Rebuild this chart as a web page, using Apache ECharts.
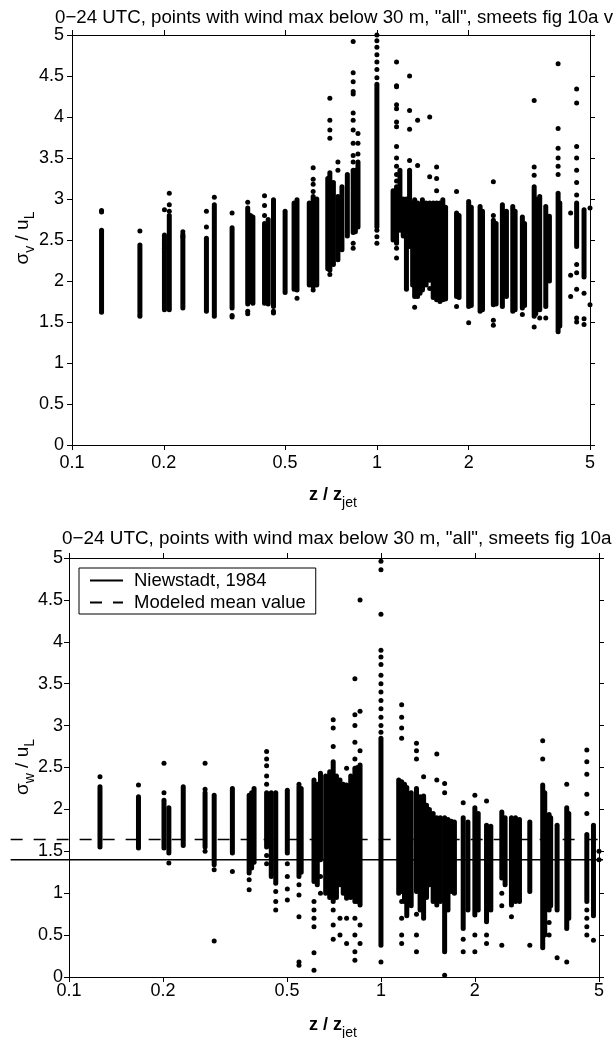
<!DOCTYPE html>
<html>
<head>
<meta charset="utf-8">
<script src="https://cdn.jsdelivr.net/npm/echarts@6/dist/echarts.min.js"></script>
<style>
html, body { margin: 0; padding: 0; background: #fff; }
#chart { width: 613px; height: 1038px; }
</style>
</head>
<body>
<div id="chart"></div>
<script>
// ---- values ----
const xTicks = [0.1, 0.2, 0.5, 1, 2, 5];
const refLineX = [0.065, 5.15];   // reference lines run past the left axis
const niewstadt = 1.4;
const modeledMean = 1.64;

// top panel: sigma_v / u_L, one entry per column of points (x, dense range lo..hi, loose points)
const topColX  = [0.125, 0.167, 0.201, 0.2085, 0.231, 0.276, 0.293, 0.335, 0.377, 0.392, 0.428, 0.458, 0.5, 0.547, 0.618, 0.701, 0.745, 0.768, 0.836, 0.867, 1.0, 1.16, 1.19, 1.28, 1.33, 1.36, 1.41, 1.49, 1.57, 1.645, 1.825, 2.0, 2.18, 2.41, 2.58, 2.66, 2.79, 3.0, 3.28, 3.42, 3.58, 3.68, 3.93, 4.32, 4.52, 4.78, 5.0,
  // extra columns inside the dense clusters
  0.385, 0.44, 0.535, 0.60, 0.635, 0.69, 0.72, 0.80, 0.85, 1.13, 1.22, 1.25, 1.31, 1.385, 1.45, 1.53, 1.61, 1.68, 1.86, 2.04, 2.22, 2.46, 2.84, 3.05, 3.32, 3.98];
const topColLo = [1.62, 1.59, 1.65, 1.65, 1.67, 1.63, 1.57, 1.67, 1.72, 1.73, 1.73, 1.69, 1.86, 1.89, 1.93, 2.13, 2.26, 2.38, 2.59, 2.66, 2.66, 2.46, 2.62, 2.42, 1.81, 1.81, 1.89, 2.01, 1.77, 1.77, 1.81, 1.69, 1.63, 1.71, 1.69, 1.81, 1.63, 1.67, 1.57, 1.65, 1.69, 2.00, 1.38, null, 2.42, 2.05, null,
  1.75, 1.72, 1.90, 1.95, 1.95, 2.15, 2.20, 2.55, 2.60, 2.50, 2.55, 1.90, 1.95, 1.85, 1.95, 1.80, 1.75, 1.78, 1.80, 1.70, 1.65, 1.72, 1.65, 1.70, 1.60, 1.45];
const topColHi = [2.62, 2.44, 2.56, 2.80, 2.57, 2.52, 2.93, 2.65, 2.89, 2.78, 2.70, 2.99, 2.85, 2.99, 3.03, 3.32, 3.03, 3.15, 3.35, 3.45, 4.40, 3.15, 3.35, 3.35, 2.99, 2.95, 2.99, 2.95, 2.95, 2.99, 2.83, 2.97, 2.91, 2.74, 2.93, 2.85, 2.91, 2.78, 3.15, 3.03, 2.91, 2.79, 3.07, null, 2.95, 2.87, null,
  2.80, 2.75, 2.95, 2.95, 3.00, 3.25, 3.20, 3.30, 3.35, 3.10, 3.00, 3.00, 2.95, 2.90, 2.95, 2.95, 2.95, 2.90, 2.80, 2.90, 2.85, 2.70, 2.85, 2.70, 3.00, 2.95];
const topColDots = [
  [2.84, 2.86], [2.61, 1.57], [2.87, 2.40], [3.07, 2.93, 2.85], [2.60, 2.54],
  [2.85, 2.66], [3.02], [2.83, 1.58, 1.56], [2.96, 1.63, 1.60], [],
  [3.04, 2.92, 2.80], [1.63, 1.61], [], [1.79], [3.38, 3.24, 3.18, 3.09, 1.89],
  [4.23, 3.96, 3.84, 3.74, 2.08], [3.45, 3.35], [],
  [4.92, 4.54, 4.43, 4.31, 4.28, 4.05, 3.96, 3.84, 3.68, 3.53, 3.45, 2.46, 2.40],
  [3.55, 3.68, 3.80],
  [4.48, 4.58, 4.67, 4.76, 4.85, 4.93, 5.0, 2.62, 2.54, 2.46],
  [4.67, 4.38, 4.37, 4.15, 4.10, 3.94, 3.88, 3.64, 3.50, 3.40, 3.30, 3.22, 2.40, 2.28],
  [], [4.50, 4.08, 3.85, 3.47], [1.68], [3.96, 3.41], [1.91], [4.00, 3.27, 1.91],
  [3.39, 3.25, 3.10], [], [3.09, 1.69], [1.49], [], [3.21, 2.80, 1.52, 1.46],
  [], [], [], [1.59], [4.20, 3.39, 3.29, 1.44], [1.55], [1.55], [],
  [4.65, 3.86, 3.62, 3.50, 3.40, 3.30], [2.83, 2.07, 1.81],
  [4.34, 4.17, 3.64, 3.50, 3.35, 3.20, 3.05, 2.20, 2.10, 1.90, 1.55, 1.50],
  [1.85, 1.54, 1.47], [2.89, 1.71]
];

// bottom panel: sigma_w / u_L
const botColX  = [0.1257, 0.167, 0.2016, 0.209, 0.2324, 0.273, 0.292, 0.334, 0.378, 0.392, 0.43, 0.46, 0.501, 0.546, 0.61, 0.64, 0.703, 0.739, 0.776, 0.825, 0.857, 1.0, 1.165, 1.21, 1.30, 1.37, 1.43, 1.51, 1.60, 1.68, 1.835, 2.0, 2.18, 2.44, 2.62, 2.78, 3.0, 3.30, 3.46, 3.67, 3.94, 4.57, 4.8, 5.0,
  0.385, 0.445, 0.555, 0.625, 0.665, 0.685, 0.72, 0.757, 0.80, 0.84, 1.14, 1.19, 1.25, 1.335, 1.40, 1.47, 1.55, 1.64, 1.72, 1.90, 2.05, 2.25, 2.50, 2.70, 3.35, 3.50, 4.00];
const botColLo = [1.55, 1.54, 1.54, 1.48, 1.57, 1.55, 1.34, 1.48, 1.24, 1.37, 1.55, 1.12, 1.48, 1.20, 1.14, 1.40, 0.90, 1.10, 0.94, 0.90, 0.86, 0.38, 1.02, 0.73, 1.02, 0.70, 1.10, 0.86, 0.30, 1.02, 0.58, 0.74, 0.66, 1.18, 0.86, 0.90, 1.02, 0.35, 0.80, 0.80, 0.58, 0.90, 0.73, null,
  1.30, 1.20, 1.25, 1.10, 1.00, 0.95, 0.95, 1.00, 0.95, 0.90, 1.00, 0.90, 0.85, 0.80, 0.95, 0.90, 0.90, 0.80, 1.00, 0.80, 0.80, 0.80, 1.10, 0.90, 0.50, 0.85, 0.70];
const botColHi = [2.27, 2.15, 2.11, 2.02, 2.27, 2.20, 2.17, 2.25, 2.17, 2.25, 2.20, 2.20, 2.23, 2.27, 2.35, 2.43, 2.57, 2.35, 2.29, 2.49, 2.53, 2.85, 2.33, 2.26, 2.25, 2.16, 2.00, 1.90, 1.90, 1.86, 1.90, 2.02, 1.81, 1.97, 1.90, 1.88, 1.85, 2.29, 1.94, 1.81, 2.02, 1.70, 1.81, null,
  2.20, 2.20, 2.25, 2.30, 2.40, 2.45, 2.40, 2.30, 2.40, 2.50, 2.35, 2.30, 2.20, 2.15, 2.05, 1.95, 1.90, 1.88, 1.85, 1.85, 1.95, 1.80, 1.90, 1.90, 2.20, 1.90, 1.95];
const botColDots = [
  [2.39], [2.29], [2.55, 2.20], [1.36], [], [2.55, 2.24, 1.50], [1.28, 0.43], [1.26],
  [1.16, 1.04], [], [2.69, 2.60, 2.52, 2.40, 2.30, 1.45, 1.35], [1.02, 0.90, 0.80],
  [1.35, 1.20, 1.05, 0.92], [2.30, 1.10, 0.98, 0.72, 0.18, 0.14],
  [0.90, 0.80, 0.70, 0.60, 0.29, 0.08], [1.20, 1.00],
  [3.07, 2.97, 2.75, 0.80, 0.62, 0.45], [0.70, 0.50], [2.49, 0.70, 0.40],
  [3.56, 3.13, 3.00, 2.80, 2.60, 0.70, 0.50, 0.30, 0.20],
  [4.50, 3.17, 2.70, 0.62, 0.40],
  [4.96, 4.86, 4.33, 3.90, 3.82, 3.73, 3.60, 3.50, 3.40, 3.30, 3.20, 3.10, 3.00, 2.92, 0.18],
  [3.25, 3.10, 2.97, 2.85, 0.90, 0.70, 0.50, 0.40], [],
  [2.79, 2.70, 2.60, 0.75, 0.50, 0.30], [2.39], [], [2.66, 2.35], [2.31, 2.20, 0.02], [],
  [2.08, 0.45, 0.30], [2.17, 0.50, 0.30], [2.10, 0.50, 0.40], [1.00, 0.85, 0.38],
  [0.72], [], [0.38], [2.82, 2.60], [0.65, 0.50], [0.23], [2.30, 0.18],
  [2.71, 2.57, 2.42, 2.18, 1.95, 0.80, 0.70, 0.60, 0.50], [0.44], [1.40, 1.50]
];

// ---- build ----
const FONT = "'Liberation Sans', Arial, sans-serif";
const DASH = [12, 11];

function columns(xs, lo, hi) {
  const out = [];
  xs.forEach((x, i) => { if (lo[i] != null) out.push([x, lo[i], hi[i]]); });
  return out;
}
function dots(xs, ys) {
  const out = [];
  xs.forEach((x, i) => (ys[i] || []).forEach(y => out.push([x, y])));
  return out;
}
function renderColumn(params, api) {
  const top = api.coord([api.value(0), api.value(2)]);
  const bot = api.coord([api.value(0), api.value(1)]);
  return {
    type: 'rect',
    shape: { x: top[0] - 2.5, y: top[1] - 2.5, width: 5, height: bot[1] - top[1] + 5, r: 2.5 },
    style: { fill: '#000' }
  };
}
// horizontal reference line, drawn past the axis like in the original figure
function renderRefLine(params, api) {
  const a = api.coord([api.value(0), api.value(2)]);
  const b = api.coord([api.value(1), api.value(2)]);
  return {
    type: 'line',
    shape: { x1: a[0], y1: a[1], x2: b[0], y2: b[1] },
    style: { stroke: '#000', lineWidth: 1.5, lineDash: api.value(3) ? DASH : null }
  };
}

function xAxisDef(grid, pos, margin) {
  return {
    type: 'log', logBase: 10, gridIndex: grid, position: pos, min: 0.1, max: 5,
    axisLine: { show: true, onZero: false, lineStyle: { color: '#000', width: 1 } },
    axisTick: { show: true, inside: false, length: 5, customValues: xTicks, lineStyle: { color: '#000' } },
    axisLabel: {
      show: pos === 'bottom', customValues: xTicks, margin: margin,
      formatter: v => String(+(+v).toPrecision(3)),
      color: '#000', fontSize: 18, fontFamily: FONT
    },
    splitLine: { show: false }
  };
}
function yAxisDef(grid, pos, margin) {
  return {
    type: 'value', gridIndex: grid, position: pos, min: 0, max: 5, interval: 0.5,
    axisLine: { show: true, onZero: false, lineStyle: { color: '#000', width: 1 } },
    axisTick: { show: true, inside: false, length: 5, lineStyle: { color: '#000' } },
    axisLabel: { show: pos === 'left', margin: margin, formatter: v => String(v), color: '#000', fontSize: 18, fontFamily: FONT },
    splitLine: { show: false }
  };
}

// main text sits at the top of the line box, subscripts at the bottom
const rich = {
  m: { fontSize: 19, fontFamily: FONT, color: '#000', lineHeight: 24, verticalAlign: 'top' },
  s: { fontSize: 14, fontFamily: FONT, color: '#000', lineHeight: 24, verticalAlign: 'bottom' },
  b: { fontSize: 18, fontFamily: FONT, fontWeight: 'bold', color: '#000', lineHeight: 24, verticalAlign: 'top' }
};

const chart = echarts.init(document.getElementById('chart'));
chart.setOption({
  backgroundColor: '#fff',
  animation: false,
  title: [
    { text: '0\u221224 UTC, points with wind max below 30 m, "all", smeets fig 10a v', left: 55, top: 8, padding: 0,
      textStyle: { fontSize: 18.7, fontWeight: 'normal', color: '#000', fontFamily: FONT } },
    { text: '0\u221224 UTC, points with wind max below 30 m, "all", smeets fig 10a', left: 62, top: 529, padding: 0,
      textStyle: { fontSize: 18.9, fontWeight: 'normal', color: '#000', fontFamily: FONT } }
  ],
  grid: [
    { left: 72, top: 35, width: 518, height: 410, outerBoundsMode: 'none' },
    { left: 69, top: 558, width: 530, height: 419, outerBoundsMode: 'none' }
  ],
  xAxis: [xAxisDef(0, 'bottom', 9), xAxisDef(0, 'top', 8), xAxisDef(1, 'bottom', 5), xAxisDef(1, 'top', 8)],
  yAxis: [yAxisDef(0, 'left', 8), yAxisDef(0, 'right', 8), yAxisDef(1, 'left', 6), yAxisDef(1, 'right', 8)],
  legend: {
    left: 79, top: 568, orient: 'vertical',
    backgroundColor: '#fff', borderColor: '#000', borderWidth: 1, borderRadius: 0,
    padding: [3, 10, 2, 10], itemGap: 3, itemWidth: 33, itemHeight: 2,
    itemStyle: { opacity: 0 },
    textStyle: { fontSize: 18.5, color: '#000', fontFamily: FONT, padding: [0, 0, 0, 6] },
    data: ['Niewstadt, 1984', 'Modeled mean value']
  },
  graphic: [
    { type: 'text', x: 25, y: 238, rotation: Math.PI / 2,
      style: { text: '{m|\u03c3}{s|v}{m| / u}{s|L}', rich: rich, align: 'center', verticalAlign: 'middle' } },
    { type: 'text', x: 25, y: 767, rotation: Math.PI / 2,
      style: { text: '{m|\u03c3}{s|w}{m| / u}{s|L}', rich: rich, align: 'center', verticalAlign: 'middle' } },
    { type: 'text', x: 333, y: 498,
      style: { text: '{b|z / z}{s|jet}', rich: rich, align: 'center', verticalAlign: 'middle' } },
    { type: 'text', x: 333, y: 1028,
      style: { text: '{b|z / z}{s|jet}', rich: rich, align: 'center', verticalAlign: 'middle' } }
  ],
  series: [
    { type: 'custom', xAxisIndex: 0, yAxisIndex: 0, renderItem: renderColumn,
      encode: { x: 0, y: [1, 2] }, data: columns(topColX, topColLo, topColHi), silent: true },
    { type: 'scatter', xAxisIndex: 0, yAxisIndex: 0, symbol: 'circle', symbolSize: 5, clip: false,
      itemStyle: { color: '#000', opacity: 1 }, data: dots(topColX, topColDots), silent: true },
    { type: 'custom', xAxisIndex: 2, yAxisIndex: 2, renderItem: renderColumn,
      encode: { x: 0, y: [1, 2] }, data: columns(botColX, botColLo, botColHi), silent: true },
    { type: 'scatter', xAxisIndex: 2, yAxisIndex: 2, symbol: 'circle', symbolSize: 5, clip: false,
      itemStyle: { color: '#000', opacity: 1 }, data: dots(botColX, botColDots), silent: true },
    // the two reference levels (x0, x1, y, dashed?)
    { type: 'custom', xAxisIndex: 2, yAxisIndex: 2, renderItem: renderRefLine, clip: false, z: 5, silent: true,
      encode: { x: [0, 1], y: 2 },
      data: [[refLineX[0], refLineX[1], niewstadt, 0], [refLineX[0], refLineX[1], modeledMean, 1]] },
    // legend entries
    { name: 'Niewstadt, 1984', type: 'line', xAxisIndex: 2, yAxisIndex: 2, symbol: 'none', data: [],
      lineStyle: { color: '#000', width: 1.5, type: 'solid' }, itemStyle: { color: '#000' } },
    { name: 'Modeled mean value', type: 'line', xAxisIndex: 2, yAxisIndex: 2, symbol: 'none', data: [],
      lineStyle: { color: '#000', width: 1.5, type: DASH }, itemStyle: { color: '#000' } }
  ]
});
</script>
</body>
</html>
